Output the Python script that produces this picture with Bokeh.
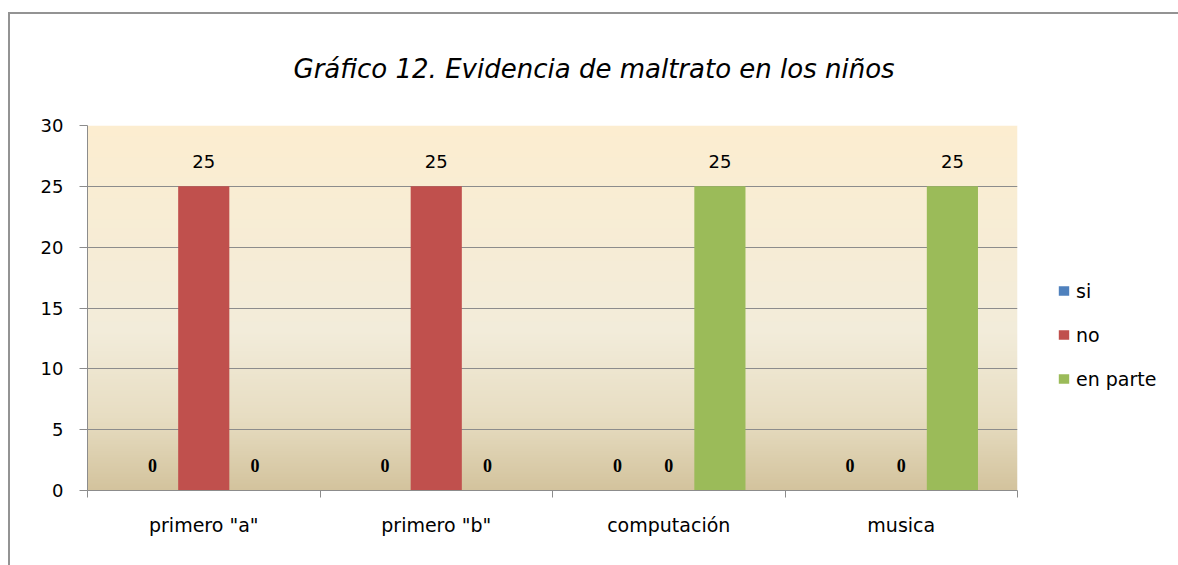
import numpy as np
from bokeh.plotting import figure
from bokeh.models import (FactorRange, Range1d, LinearAxis, CategoricalAxis, FixedTicker,
                          ColumnDataSource, Legend, LegendItem)
from bokeh.transform import dodge
from bokeh.core.properties import value
from bokeh.embed import file_html
from bokeh.resources import INLINE

# ---- data ----
categories = ['primero "a"', 'primero "b"', 'computación', 'musica']
series_names = ["si", "no", "en parte"]
si = [0, 0, 0, 0]
no = [25, 25, 0, 0]
en_parte = [0, 0, 25, 25]
y_ticks = [0, 5, 10, 15, 20, 25, 30]
title_text = "Gráfico 12. Evidencia de maltrato  en los niños"

# ---- styles ----
colors = ["#4F81BD", "#C0504D", "#9BBB59"]
offsets = [-0.22, 0.0, 0.22]
bar_w = 0.22
FONT = "DejaVu Sans"

p = figure(frame_width=930, frame_height=365,
           x_range=FactorRange(factors=categories, range_padding=0),
           y_range=Range1d(0, 30),
           output_backend="svg", toolbar_location=None,
           x_axis_location=None,
           min_border_left=87, min_border_right=0,
           min_border_top=125, min_border_bottom=75)
p.outline_line_color = None
p.background_fill_color = "white"
p.border_fill_color = None
# outer chart border (left and top edges), drawn behind the transparent canvas
p.styles = {
    "background-color": "white",
    "background-image": "linear-gradient(#939393, #939393), linear-gradient(#939393, #939393)",
    "background-size": "2px 100%, 100% 2px",
    "background-position": "8px 12px, 8px 12px",
    "background-repeat": "no-repeat",
}

# title
p.title.text = title_text
p.title.text_font = FONT
p.title.text_font_style = "italic"
p.title.text_font_size = "26px"
p.title.text_color = "black"
p.title.align = "left"
p.title.offset = 206
p.title.standoff = 84

# gradient background (style only), as an image in synthetic category coordinates
n = 300
ys = np.linspace(0, 30, n)
stops_y = [0, 6, 13, 30]
stops_c = [(211, 195, 157), (231, 221, 194), (242, 236, 218), (252, 237, 208)]
img = np.zeros((n, 2), dtype=np.uint32)
view = img.view(dtype=np.uint8).reshape((n, 2, 4))
for k in range(3):
    view[:, :, k] = np.interp(ys, stops_y, [c[k] for c in stops_c])[:, None].round().astype(np.uint8)
view[:, :, 3] = 255
bg = p.image_rgba(image=[img], x=0, y=0, dw=len(categories), dh=30)
bg.level = "image"

# grid
p.xgrid.visible = False
p.ygrid.ticker = FixedTicker(ticks=y_ticks)
p.ygrid.grid_line_color = "#8c8c8c"
p.ygrid.grid_line_width = 1

# y axis
p.yaxis.ticker = FixedTicker(ticks=y_ticks)
p.yaxis.axis_line_color = "#8c8c8c"
p.yaxis.major_tick_line_color = "#8c8c8c"
p.yaxis.major_tick_out = 8
p.yaxis.major_tick_in = 0
p.yaxis.minor_tick_line_color = None
p.yaxis.major_label_text_font = FONT
p.yaxis.major_label_text_font_size = "18px"
p.yaxis.major_label_text_color = "black"
p.yaxis.major_label_standoff = 16

# x tick axis at category boundaries (synthetic coordinates)
tick_axis = LinearAxis(ticker=FixedTicker(ticks=list(range(len(categories) + 1))),
                       major_label_text_font_size="0px", major_label_text_color=None,
                       major_label_standoff=0,
                       axis_line_color="#8c8c8c", major_tick_line_color="#8c8c8c",
                       major_tick_out=7, major_tick_in=0, minor_tick_line_color=None)
p.add_layout(tick_axis, "below")
cat_axis = CategoricalAxis(axis_line_color=None, major_tick_line_color=None,
                           major_label_text_font=FONT, major_label_text_font_size="19px",
                           major_label_text_color="black", major_label_standoff=10)
p.add_layout(cat_axis, "below")

# bars + labels
src = ColumnDataSource(dict(cat=categories, si=si, no=no, en_parte=en_parte))
keys = ["si", "no", "en_parte"]
vals_all = [si, no, en_parte]
items = []
for name, key, vals, off, c in zip(series_names, keys, vals_all, offsets, colors):
    r = p.vbar(x=dodge("cat", off, range=p.x_range), top=key, width=bar_w,
               source=src, fill_color=c, line_color=None)
    items.append(LegendItem(label=name, renderers=[r]))
    lsrc = ColumnDataSource(dict(
        cat=categories, v=vals, t=[str(v) for v in vals],
        font=["Liberation Serif" if v == 0 else FONT for v in vals],
        style=["bold" if v == 0 else "normal" for v in vals]))
    p.text(x=dodge("cat", off, range=p.x_range), y="v", text="t", source=lsrc,
           text_font="font", text_font_style="style", text_font_size="18px",
           text_color="black", text_align="center", text_baseline="alphabetic",
           y_offset=-25)

legend = Legend(items=items, location="center_left", orientation="vertical",
                glyph_width=13, glyph_height=12, label_height=20,
                label_text_font=FONT, label_text_font_size="19px",
                label_text_color="black", label_standoff=6, spacing=22,
                padding=0, margin=40, border_line_color=None,
                background_fill_alpha=0,
                title=" ", title_text_font_size="20px", title_standoff=30)
p.add_layout(legend, "right")

open("out.html", "w").write(file_html(p, INLINE))
